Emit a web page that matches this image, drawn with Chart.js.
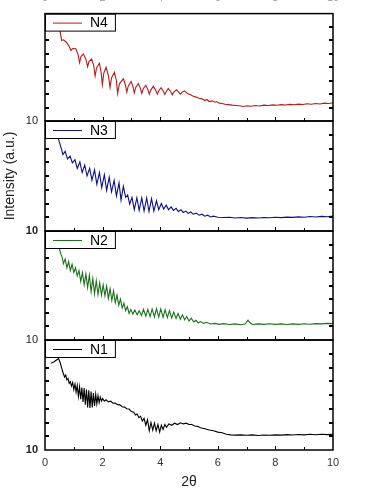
<!DOCTYPE html>
<html>
<head>
<meta charset="utf-8">
<script src="https://cdn.jsdelivr.net/npm/chart.js@4.4.0/dist/chart.umd.min.js"></script>
<style>
  html, body { margin: 0; padding: 0; background: #fff; }
  #wrap { position: relative; width: 365px; height: 493px; overflow: hidden; }
  #wrap canvas { position: absolute; left: 0; top: 0; }
</style>
</head>
<body>
<div id="wrap">
  <canvas id="p1" width="365" height="493"></canvas>
  <canvas id="p2" width="365" height="493"></canvas>
  <canvas id="p3" width="365" height="493"></canvas>
  <canvas id="p4" width="365" height="493"></canvas>
</div>
<script>
// XRR-style stacked panels: 4 samples, 2θ vs intensity (offset log, a.u.)

const X_TICKS = [1, 2, 3, 4, 5, 6, 7, 8, 9];
const Y_TICKS = [1, 2, 3, 4, 5, 6, 7];

const n4X = [0.52,0.58,0.64,0.75,0.84,0.90,0.96,1.07,1.15,1.20,
  1.25,1.33,1.42,1.48,1.53,1.62,1.69,1.74,1.79,1.89,
  1.95,1.99,2.04,2.12,2.20,2.26,2.31,2.41,2.48,2.52,
  2.58,2.72,2.79,2.84,2.89,2.99,3.05,3.10,3.15,3.24,
  3.31,3.36,3.41,3.50,3.57,3.62,3.67,3.76,3.84,3.90,
  3.95,4.03,4.10,4.16,4.21,4.28,4.36,4.42,4.47,4.57,
  4.64,4.70,4.76,4.84,4.95,5.05,5.15,5.25,5.35,5.45,
  5.55,5.62,5.70,5.80,5.90,5.96,6.05,6.15,6.25,6.35,
  6.50,6.65,6.80,6.90,7.00,7.15,7.30,7.45,7.60,7.75,
  7.90,8.05,8.20,8.35,8.50,8.65,8.80,8.95,9.10,9.25,
  9.40,9.55,9.70,9.85,10.00];
const n4Y = [6.70,6.00,6.05,5.85,5.55,5.25,5.40,5.38,4.95,4.35,
  4.80,5.00,4.60,4.05,4.45,4.62,4.15,3.35,3.95,4.30,
  3.60,2.70,3.55,4.00,3.40,2.50,3.20,3.62,3.00,2.05,
  2.75,3.15,2.70,2.15,2.60,2.95,2.60,2.10,2.50,2.78,
  2.45,2.05,2.40,2.66,2.35,2.00,2.30,2.58,2.30,2.00,
  2.25,2.48,2.25,1.98,2.20,2.42,2.20,1.95,2.15,2.33,
  2.15,2.00,2.15,2.24,2.05,1.95,1.85,1.78,1.70,1.65,
  1.52,1.60,1.45,1.50,1.40,1.45,1.33,1.30,1.25,1.22,
  1.18,1.15,1.12,1.08,1.13,1.10,1.15,1.12,1.18,1.15,
  1.20,1.17,1.22,1.19,1.24,1.21,1.26,1.23,1.28,1.25,
  1.30,1.27,1.33,1.30,1.36];

const n3X = [0.46,0.58,0.62,0.70,0.78,0.87,0.95,1.04,1.12,1.21,
  1.29,1.38,1.46,1.55,1.63,1.72,1.80,1.89,1.97,2.06,
  2.14,2.23,2.31,2.40,2.48,2.57,2.64,2.72,2.80,2.87,
  2.94,3.02,3.10,3.19,3.27,3.36,3.44,3.53,3.61,3.70,
  3.78,3.87,3.95,4.04,4.12,4.21,4.29,4.38,4.46,4.55,
  4.63,4.72,4.80,4.89,4.97,5.06,5.15,5.25,5.35,5.45,
  5.55,5.65,5.75,5.85,6.00,6.20,6.40,6.60,6.80,7.00,
  7.20,7.40,7.60,7.80,8.00,8.20,8.40,8.60,8.80,9.00,
  9.20,9.40,9.60,9.80,10.00];
const n3Y = [6.74,5.90,5.55,5.80,5.25,5.45,4.95,5.18,4.55,5.02,
  4.25,4.80,4.00,4.55,3.70,4.45,3.40,4.25,3.15,4.10,
  2.95,3.92,2.85,3.68,2.55,3.50,2.25,3.25,2.45,2.62,
  1.95,2.45,1.55,2.42,1.50,2.40,1.45,2.40,1.42,2.35,
  1.45,2.20,1.55,2.00,1.60,1.88,1.55,1.75,1.50,1.65,
  1.42,1.55,1.35,1.45,1.28,1.38,1.22,1.30,1.15,1.22,
  1.08,1.15,1.02,1.08,1.00,0.98,1.00,0.95,0.98,0.94,
  0.97,0.95,0.98,0.96,1.00,0.97,1.01,0.99,1.03,1.00,
  1.05,1.02,1.06,1.04,1.08];

const n2X = [0.50,0.55,0.60,0.64,0.70,0.76,0.82,0.88,0.94,1.00,
  1.06,1.12,1.18,1.24,1.30,1.36,1.42,1.48,1.54,1.60,
  1.66,1.72,1.78,1.84,1.90,1.96,2.02,2.08,2.14,2.20,
  2.26,2.32,2.38,2.44,2.50,2.56,2.62,2.68,2.74,2.80,
  2.86,2.92,2.98,3.05,3.12,3.20,3.27,3.35,3.42,3.50,
  3.57,3.65,3.72,3.80,3.87,3.95,4.02,4.10,4.17,4.25,
  4.32,4.40,4.47,4.55,4.62,4.70,4.77,4.85,4.92,5.00,
  5.08,5.16,5.24,5.32,5.40,5.50,5.60,5.75,5.90,6.05,
  6.20,6.40,6.60,6.80,6.95,7.05,7.10,7.20,7.40,7.60,
  7.80,8.00,8.20,8.40,8.60,8.80,9.00,9.20,9.40,9.60,
  9.80,10.00];
const n2Y = [6.70,6.30,6.05,5.60,5.95,5.30,5.75,5.10,5.55,4.95,
  5.30,4.70,5.10,4.30,4.95,4.05,4.85,3.85,4.75,3.55,
  4.50,3.40,4.35,3.35,4.20,3.30,4.05,3.25,3.95,3.05,
  3.75,2.90,3.60,2.75,3.30,2.55,3.00,2.35,2.70,2.15,
  2.45,1.95,2.25,1.90,2.20,1.85,2.15,1.80,2.25,1.75,
  2.25,1.72,2.28,1.70,2.30,1.68,2.28,1.66,2.22,1.64,
  2.15,1.62,2.05,1.58,1.95,1.52,1.85,1.48,1.72,1.40,
  1.60,1.32,1.45,1.25,1.35,1.22,1.30,1.18,1.22,1.15,
  1.20,1.14,1.18,1.12,1.17,1.45,1.30,1.14,1.18,1.15,
  1.19,1.15,1.18,1.14,1.18,1.15,1.19,1.16,1.20,1.18,
  1.22,1.20];

const n1X = [0.20,0.30,0.40,0.47,0.52,0.58,0.63,0.68,0.72,0.76,
  0.80,0.84,0.88,0.92,0.96,1.00,1.04,1.08,1.12,1.16,
  1.20,1.24,1.28,1.32,1.36,1.40,1.44,1.48,1.52,1.56,
  1.60,1.64,1.68,1.72,1.76,1.80,1.84,1.88,1.92,1.96,
  2.00,2.06,2.12,2.20,2.28,2.36,2.44,2.52,2.60,2.68,
  2.76,2.84,2.92,3.00,3.08,3.14,3.20,3.26,3.32,3.38,
  3.44,3.50,3.56,3.62,3.68,3.74,3.80,3.86,3.92,3.98,
  4.04,4.10,4.16,4.22,4.30,4.40,4.50,4.60,4.70,4.80,
  4.90,5.00,5.10,5.20,5.30,5.40,5.55,5.70,5.85,6.00,
  6.15,6.30,6.45,6.60,6.80,7.00,7.20,7.40,7.60,7.80,
  8.00,8.20,8.40,8.60,8.80,9.00,9.20,9.40,9.60,9.80,
  10.00];
const n1Y = [6.30,6.40,6.55,6.65,6.40,5.95,5.60,5.30,5.45,5.10,
  5.20,4.85,4.98,4.65,4.90,4.40,4.80,4.20,4.70,3.90,
  4.60,3.70,4.55,3.50,4.50,3.30,4.40,3.10,4.35,3.05,
  4.25,3.10,4.15,3.20,4.05,3.35,3.95,3.45,3.85,3.55,
  3.75,3.55,3.65,3.50,3.55,3.40,3.42,3.30,3.28,3.15,
  3.12,3.00,2.98,2.80,2.75,2.55,2.62,2.35,2.45,2.10,
  2.30,1.80,2.20,1.40,2.00,1.45,1.95,1.40,1.85,1.30,
  1.80,1.50,1.85,1.65,1.90,1.80,1.95,1.85,1.98,1.90,
  1.95,1.85,1.85,1.75,1.72,1.62,1.55,1.45,1.40,1.30,
  1.25,1.15,1.10,1.08,1.10,1.07,1.10,1.06,1.09,1.07,
  1.10,1.08,1.12,1.09,1.13,1.10,1.14,1.11,1.15,1.12,
  1.15];

const FONT = '"Liberation Sans", Arial, sans-serif';
Chart.defaults.font.family = FONT;
Chart.defaults.color = '#333';

// panel boxes in page pixels (top/bottom of plot frame)
const PANELS = [
  { canvas: "p1", label: "N4", color: "#b81a1a", xs: n4X, ys: n4Y, top: 13,  bottom: 121, xAxis: "top",    boldTen: false },
  { canvas: "p2", label: "N3", color: "#101080", xs: n3X, ys: n3Y, top: 121, bottom: 231, xAxis: null,     boldTen: true, yTitle: "Intensity (a.u.)" },
  { canvas: "p3", label: "N2", color: "#1a721a", xs: n2X, ys: n2Y, top: 231, bottom: 340, xAxis: null,     boldTen: false },
  { canvas: "p4", label: "N1", color: "#000000", xs: n1X, ys: n1Y, top: 340, bottom: 450, xAxis: "bottom", boldTen: true },
];

// inward tick marks, frame and boxed legend (Origin look)
const panelDecor = {
  id: "panelDecor",
  afterDraw(chart) {
    const { ctx, chartArea: a, scales } = chart;
    const x = scales.x, y = scales.y;
    ctx.save();
    ctx.strokeStyle = "#000";

    ctx.lineWidth = 1;
    X_TICKS.forEach((v) => {
      const px = Math.round(x.getPixelForValue(v)) + 0.5;
      const len = v % 2 === 0 ? 4 : 3;
      ctx.beginPath();
      ctx.moveTo(px, a.bottom);
      ctx.lineTo(px, a.bottom - len);
      ctx.stroke();
    });

    ctx.lineWidth = 2;
    Y_TICKS.forEach((v) => {
      const py = Math.round(y.getPixelForValue(v));
      ctx.beginPath();
      ctx.moveTo(a.left, py);
      ctx.lineTo(a.left + 4, py);
      ctx.moveTo(a.right, py);
      ctx.lineTo(a.right - 4, py);
      ctx.stroke();
    });

    // legend box
    const ds = chart.data.datasets[0];
    ctx.font = "14px " + FONT;
    const tw = ctx.measureText(ds.label).width;
    const bx = a.left, by = a.top, bw = 45 + tw + 7, bh = 17;
    ctx.fillStyle = "#fff";
    ctx.fillRect(bx, by, bw, bh);
    ctx.lineWidth = 1;
    ctx.strokeRect(bx + 0.5, by + 0.5, bw, bh);
    ctx.strokeStyle = ds.borderColor;
    ctx.beginPath();
    ctx.moveTo(bx + 8, by + 9.5);
    ctx.lineTo(bx + 37, by + 9.5);
    ctx.stroke();
    ctx.fillStyle = "#000";
    ctx.textBaseline = "middle";
    ctx.fillText(ds.label, bx + 45, by + 10);

    // frame
    ctx.strokeStyle = "#000";
    ctx.lineWidth = 1.5;
    ctx.strokeRect(a.left, a.top, a.right - a.left, a.bottom - a.top);
    ctx.restore();
  },
};

function buildPanel(p) {
  const ctx = document.getElementById(p.canvas).getContext("2d");
  const hasTop = p.xAxis === "top";
  const hasBottom = p.xAxis === "bottom";
  return new Chart(ctx, {
    type: "line",
    data: {
      datasets: [{
        label: p.label,
        data: p.xs.map((v, i) => ({ x: v, y: p.ys[i] })),
        borderColor: p.color,
        borderWidth: 1.1,
        pointRadius: 0,
        tension: 0,
        fill: false,
      }],
    },
    options: {
      responsive: false,
      devicePixelRatio: 1,
      animation: false,
      events: [],
      layout: {
        padding: {
          left: 0,
          right: 32,
          top: hasTop ? 0 : p.top,
          bottom: hasBottom ? 0 : 493 - p.bottom,
        },
      },
      plugins: { legend: { display: false }, tooltip: { enabled: false } },
      scales: {
        x: {
          type: "linear",
          position: hasTop ? "top" : "bottom",
          display: p.xAxis !== null,
          min: 0,
          max: 10,
          grid: { display: false, drawTicks: false },
          border: { display: false },
          ticks: {
            stepSize: 2,
            padding: hasTop ? 9 : 6,
            font: { size: 11 },
            color: "#333",
            maxRotation: 0,
          },
          title: {
            display: hasBottom,
            text: "2θ",
            font: { size: 14 },
            color: "#222",
            padding: { top: 0, bottom: 2 },
          },
          afterFit: (s) => { s.height = hasTop ? 13 : hasBottom ? 43 : 0; },
        },
        y: {
          type: "linear",
          position: "left",
          min: 0,
          max: 8,
          grid: { display: false, drawTicks: false },
          border: { display: false },
          ticks: {
            stepSize: 1,
            autoSkip: false,
            padding: 7,
            font: { size: 11, weight: p.boldTen ? "bold" : "normal" },
            color: "#222",
            callback: (v) => (v === 0 ? "10" : ""),
          },
          title: {
            display: !!p.yTitle,
            text: p.yTitle || "",
            font: { size: 14 },
            color: "#222",
            padding: { top: 2, bottom: 4 },
          },
          afterFit: (s) => { s.width = 45; },
        },
      },
    },
    plugins: [panelDecor],
  });
}

PANELS.forEach(buildPanel);
</script>
</body>
</html>
